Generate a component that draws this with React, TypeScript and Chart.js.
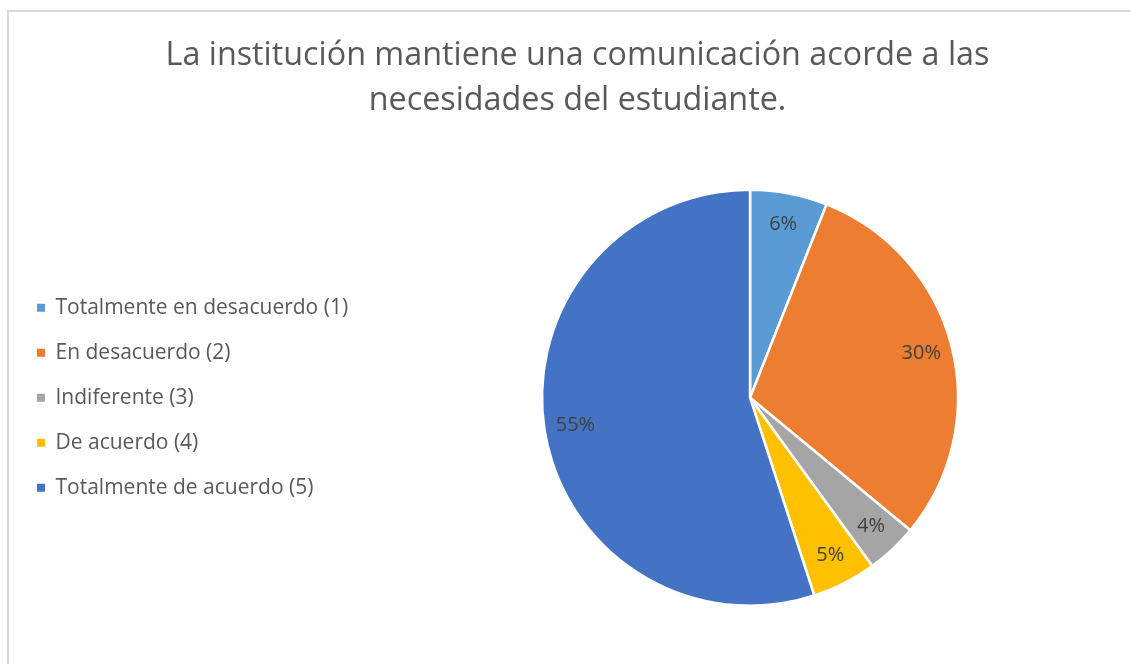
import React, { useEffect, useRef } from "react";
import { Chart, registerables } from "chart.js";

Chart.register(...registerables);

const titleLines = [
  "La institución mantiene una comunicación acorde a las",
  "necesidades del estudiante.",
];
const categories = [
  "Totalmente en desacuerdo (1)",
  "En desacuerdo (2)",
  "Indiferente (3)",
  "De acuerdo (4)",
  "Totalmente de acuerdo (5)",
];
const values = [6, 30, 4, 5, 55];
const colors = ["#5B9BD5", "#ED7D31", "#A5A5A5", "#FFC000", "#4472C4"];

const FONT = "'Open Sans', 'Noto Sans', sans-serif";

const pctLabels = {
  id: "pctLabels",
  afterDatasetsDraw(chart: any) {
    const { ctx } = chart;
    const meta = chart.getDatasetMeta(0);
    const total = values.reduce((a, b) => a + b, 0);
    ctx.save();
    ctx.font = `20px ${FONT}`;
    ctx.fillStyle = "#404040";
    ctx.textAlign = "center";
    ctx.textBaseline = "middle";
    meta.data.forEach((arc: any, i: number) => {
      const { x, y, startAngle, endAngle, outerRadius } = arc.getProps(
        ["x", "y", "startAngle", "endAngle", "outerRadius"],
        true
      );
      const mid = (startAngle + endAngle) / 2;
      const r = outerRadius * 0.85;
      const pct = Math.round((values[i] / total) * 100);
      ctx.fillText(`${pct}%`, x + Math.cos(mid) * r, y + Math.sin(mid) * r);
    });
    ctx.restore();
  },
};

export default function App() {
  const ref = useRef<HTMLCanvasElement>(null);
  useEffect(() => {
    document.body.style.overflow = "hidden";
    const baseGen = (Chart as any).overrides.pie.plugins.legend.labels.generateLabels;
    const chart = new Chart(ref.current!, {
      type: "pie",
      data: {
        labels: categories,
        datasets: [
          {
            data: values,
            backgroundColor: colors,
            borderColor: "#ffffff",
            borderWidth: 2.5,
            radius: 208,
          } as any,
        ],
      },
      options: {
        responsive: false,
        animation: false,
        layout: { padding: { left: 13, right: 0, top: 0, bottom: 19 } },
        plugins: {
          tooltip: { enabled: false },
          title: {
            display: true,
            text: titleLines,
            color: "#595959",
            font: { family: FONT, size: 32.3, weight: "normal", lineHeight: 1.4 },
            padding: { top: 33, bottom: 27 },
          },
          legend: {
            position: "left",
            align: "center",
            fullSize: false,
            labels: {
              boxWidth: 8,
              boxHeight: 8,
              padding: 24,
              color: "#595959",
              font: { family: FONT, size: 21 },
              generateLabels: (c: any) =>
                baseGen(c).map((l: any) => ({ ...l, lineWidth: 0 })),
            },
          },
        },
      },
      plugins: [pctLabels],
    });
    return () => chart.destroy();
  }, []);
  return (
    <>
      <div
        style={{
          position: "fixed",
          left: 7,
          top: 10,
          width: 1200,
          height: 800,
          borderLeft: "2px solid #d9d9d9",
          borderTop: "2px solid #d9d9d9",
        }}
      />
      <canvas
        ref={ref}
        width={1142}
        height={664}
        style={{ position: "fixed", left: 0, top: 0, width: 1142, height: 664 }}
      />
    </>
  );
}
